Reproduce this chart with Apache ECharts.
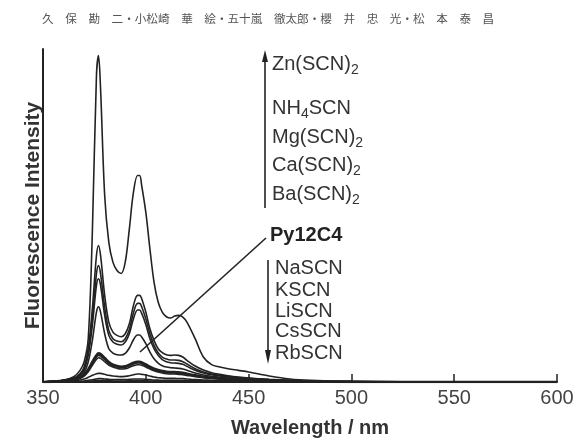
<!DOCTYPE html>
<html>
<head>
<meta charset="utf-8">
<script src="https://cdn.jsdelivr.net/npm/echarts@6/dist/echarts.min.js"></script>
<style>
html,body{margin:0;padding:0;background:#fff;}
#main{width:586px;height:438px;}
</style>
</head>
<body>
<div id="main"></div>
<script>
// wavelength sampling (nm)
var wl = [350,355,360,365,368,370,372,374,376,377,378,380,382,384,386,388,390,392,394,396,397,398,400,402,404,406,408,410,412,414,416,418,420,424,428,432,436,440,445,450,460,470,480,500,550,600];

// fluorescence intensity, arbitrary units
var zn   = [0,0.3,0.6,1.6,3.5,6,13,45,92,98,88,56,42,36,33.5,32.6,36,46,57,62,62,59,51,40,30,24,21,19.6,19.2,19.8,20,19.5,18,13,7.5,5.2,4.5,4,3.5,3,1.8,0.9,0.5,0.2,0,0];
var nh4  = [0,0.2,0.5,1.2,2.5,4.5,10,22,38,41,38,26,18,15,14,13.6,14.5,17.5,23,26,26,25,21,16,12.5,10,8.8,8.2,8,8.1,8,7.5,6.5,4.8,3.6,2.8,2.3,1.9,1.5,1.2,0.8,0.5,0.3,0.1,0,0];
var mg   = [0,0.2,0.5,1.1,2.2,4,9,19,32.5,35,32.5,22.5,15.5,13,12.3,12.1,13,15.8,20.8,23.6,23.6,22.6,19,14.5,11,8.8,7.5,6.9,6.6,6.6,6.5,6.1,5.4,4,3,2.4,2,1.7,1.3,1.1,0.7,0.4,0.25,0.1,0,0];
var ca   = [0,0.2,0.4,1,2,3.6,8,17,29,31,29,20,14,12,11.3,11.1,12,14.5,19,21.6,21.6,20.6,17.3,13,10,8,6.7,6.1,5.8,5.7,5.6,5.3,4.7,3.5,2.7,2.2,1.8,1.5,1.2,1,0.6,0.4,0.2,0.1,0,0];
var ba   = [0,0.15,0.3,0.8,1.6,2.8,6,12.5,21,22.6,21,14.5,10,8.7,8.2,8.1,8.6,10.2,12.7,14.1,14.1,13.5,11.5,9,7,5.7,4.9,4.5,4.3,4.2,4.1,3.9,3.5,2.7,2.1,1.7,1.4,1.2,1,0.8,0.5,0.3,0.2,0.05,0,0];
var py   = [0,0.1,0.3,0.7,1.3,2.2,3.8,6,8,8.6,8.4,7.2,6,5.2,4.8,4.6,4.7,5.2,5.8,6.1,6.1,5.9,5.3,4.6,4,3.6,3.3,3.1,3,3,2.9,2.8,2.5,2,1.6,1.3,1.1,0.9,0.7,0.6,0.4,0.25,0.15,0.05,0,0];
var na   = [0,0.1,0.3,0.6,1.2,2,3.5,5.6,7.5,8,7.8,6.7,5.6,4.9,4.5,4.3,4.4,4.9,5.4,5.7,5.7,5.5,4.9,4.3,3.7,3.3,3,2.8,2.7,2.7,2.6,2.5,2.3,1.8,1.4,1.2,1,0.8,0.6,0.5,0.35,0.2,0.1,0.05,0,0];
var k    = [0,0.1,0.25,0.55,1.1,1.8,3.1,5,6.8,7.3,7.1,6.1,5.1,4.5,4.1,3.9,4,4.4,4.9,5.2,5.2,5,4.5,3.9,3.4,3,2.7,2.5,2.4,2.4,2.3,2.2,2,1.6,1.3,1.1,0.9,0.7,0.55,0.45,0.3,0.2,0.1,0.05,0,0];
var li   = [0,0.05,0.1,0.3,0.6,0.9,1.4,2,2.5,2.6,2.6,2.3,2,1.8,1.7,1.6,1.7,1.9,2.2,2.4,2.4,2.3,2.1,1.8,1.5,1.3,1.2,1.1,1.1,1.1,1,1,0.9,0.7,0.6,0.5,0.4,0.35,0.3,0.25,0.15,0.1,0.05,0,0,0];
var cs   = [0,0.02,0.05,0.1,0.2,0.3,0.5,0.7,0.9,1,1,0.9,0.8,0.7,0.7,0.7,0.7,0.8,0.9,0.9,0.9,0.9,0.8,0.7,0.6,0.55,0.5,0.5,0.5,0.5,0.45,0.45,0.4,0.35,0.3,0.25,0.2,0.2,0.15,0.1,0.1,0.05,0.02,0,0,0];
var rb   = [0,0.01,0.03,0.05,0.1,0.15,0.2,0.3,0.4,0.45,0.45,0.4,0.35,0.3,0.3,0.3,0.3,0.35,0.4,0.4,0.4,0.4,0.35,0.3,0.3,0.25,0.25,0.25,0.2,0.2,0.2,0.2,0.2,0.15,0.15,0.1,0.1,0.1,0.05,0.05,0.05,0.02,0,0,0,0];

var xTicks = [350,400,450,500,550,600];

function pairs(arr){
  var out = [];
  for (var i = 0; i < wl.length; i++) out.push([wl[i], arr[i]]);
  return out;
}
function line(name, arr, w){
  return {
    name: name, type: 'line', smooth: 0.35, symbol: 'none', silent: true,
    lineStyle: {color: '#222', width: w || 1.6},
    data: pairs(arr)
  };
}

var rich = {
  a: {fontFamily: 'Liberation Sans', fontSize: 20, color: '#333'},
  s: {fontFamily: 'Liberation Sans', fontSize: 14, color: '#333', padding: [12, 0, 0, 0]}
};
function label(x, y, str){
  return {type: 'text', left: x, top: y - 13,
    style: {text: str, rich: rich, fontFamily: 'Liberation Sans', fontSize: 20, fill: '#333'}};
}
function plain(x, y, str){
  return {type: 'text', left: x, top: y - 10,
    style: {text: str, fontFamily: 'Liberation Sans', fontSize: 20, fill: '#333'}};
}

var chart = echarts.init(document.getElementById('main'));
chart.setOption({
  animation: false,
  title: {
    text: '久　保　勘　二・小松崎　華　絵・五十嵐　徹太郎・櫻　井　忠　光・松　本　泰　昌',
    left: 37, top: 8,
    textStyle: {fontFamily: 'Noto Sans CJK JP', fontSize: 11.6, fontWeight: 'normal', color: '#555'}
  },
  grid: {left: 43, right: 29, top: 49, bottom: 56, outerBoundsMode: 'none'},
  xAxis: {
    type: 'value', min: 350, max: 600, interval: 50,
    name: 'Wavelength / nm', nameLocation: 'middle', nameGap: 36,
    nameTextStyle: {fontFamily: 'Liberation Sans', fontSize: 20, fontWeight: 'bold', color: '#333', padding: [0, 0, 0, 20]},
    axisLine: {lineStyle: {color: '#222', width: 2}},
    axisTick: {inside: true, length: 8, lineStyle: {color: '#222', width: 1.5}},
    axisLabel: {fontFamily: 'Liberation Sans', fontSize: 20, color: '#444', margin: 6,
      formatter: function(v){ return xTicks.indexOf(v) >= 0 ? v : ''; }},
    splitLine: {show: false}
  },
  yAxis: {
    type: 'value', min: 0, max: 100,
    name: 'Fluorescence Intensity', nameLocation: 'middle', nameGap: -1,
    nameTextStyle: {fontFamily: 'Liberation Sans', fontSize: 21, fontWeight: 'bold', color: '#333'},
    axisLine: {show: true, lineStyle: {color: '#222', width: 2}},
    axisTick: {show: false}, axisLabel: {show: false}, splitLine: {show: false}
  },
  series: [
    line('Zn(SCN)2', zn), line('NH4SCN', nh4), line('Mg(SCN)2', mg), line('Ca(SCN)2', ca),
    line('Ba(SCN)2', ba), line('Py12C4', py, 2.6), line('NaSCN', na), line('KSCN', k),
    line('LiSCN', li), line('CsSCN', cs), line('RbSCN', rb)
  ],
  graphic: [
    // upward arrow
    {type: 'line', shape: {x1: 265, y1: 208, x2: 265, y2: 58}, style: {stroke: '#222', lineWidth: 1.6}},
    {type: 'polygon', shape: {points: [[265, 50], [262, 62], [268, 62]]}, style: {fill: '#222'}},
    label(272, 67, '{a|Zn(SCN)}{s|2}'),
    label(272, 111, '{a|NH}{s|4}{a|SCN}'),
    label(272, 140, '{a|Mg(SCN)}{s|2}'),
    label(272, 168, '{a|Ca(SCN)}{s|2}'),
    label(272, 197, '{a|Ba(SCN)}{s|2}'),
    // Py12C4 leader
    {type: 'line', shape: {x1: 266, y1: 238, x2: 140, y2: 352}, style: {stroke: '#222', lineWidth: 1.6}},
    {type: 'text', left: 270, top: 225, style: {text: 'Py12C4', fontFamily: 'Liberation Sans', fontSize: 20, fontWeight: 'bold', fill: '#222'}},
    // downward arrow
    {type: 'line', shape: {x1: 268, y1: 260, x2: 268, y2: 352}, style: {stroke: '#222', lineWidth: 1.6}},
    {type: 'polygon', shape: {points: [[268, 364], [265, 350], [271, 350]]}, style: {fill: '#222'}},
    plain(275, 268, 'NaSCN'),
    plain(275, 290, 'KSCN'),
    plain(275, 311, 'LiSCN'),
    plain(275, 331, 'CsSCN'),
    plain(275, 353, 'RbSCN')
  ]
});
</script>
</body>
</html>
